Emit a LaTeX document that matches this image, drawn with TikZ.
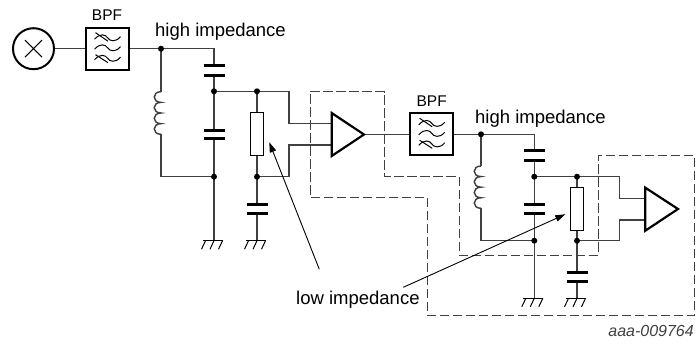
\documentclass[tikz,border=0pt]{standalone}
\usepackage{fontspec}
\setmainfont{Liberation Sans}
\usetikzlibrary{arrows.meta}
\definecolor{wirec}{gray}{0.25}
\tikzset{
  x=1pt,y=-1pt,
  wire/.style={draw=wirec,line width=1.45pt,line join=miter},
  dot/.style={circle,fill=black,inner sep=0pt,minimum size=6pt},
  plate/.style={draw=black,line width=3pt},
  hd/.style={draw=black,line width=2.2pt,fill=white},
  big/.style={font=\fontsize{18.5}{20}\selectfont,inner sep=0pt,anchor=base west},
  bpflab/.style={font=\fontsize{15.5}{17}\selectfont,inner sep=0pt,anchor=base},
  res/.style={draw=black,line width=1.1pt,fill=white,minimum width=13pt,minimum height=43pt,inner sep=0pt},
  boxf/.style={draw=black,line width=2.3pt,fill=white,minimum width=43pt,minimum height=42pt,inner sep=0pt},
  callout/.style={draw=black,line width=0.9pt,-{Triangle[length=10pt,width=6.5pt]}},
  dashb/.style={draw=wirec,line width=1.2pt,dash pattern=on 9.5pt off 3.5pt},
  sym/.style={draw=black,line width=1pt},
}
\newcommand{\capv}[3]{% x, y1, y2
  \draw[plate] (#1-10.5,#2) -- (#1+10.5,#2);
  \draw[plate] (#1-10.5,#3) -- (#1+10.5,#3);}
\newcommand{\gndv}[2]{% x, y
  \draw[sym] (#1-11,#2) -- (#1+9,#2);
  \foreach \k in {-8.5,0,8.5}{\draw[sym] (#1+\k,#2) -- (#1+\k-4,#2+8.5);}}
\newcommand{\coil}[3]{% x, y1, y2
  \pgfmathsetmacro{\st}{(#3-#2)/4}
  \draw[wire] (#1,#2)
    \foreach \k in {1,2,3,4}{ .. controls (#1-9,#2+\k*\st-\st) and (#1-9,#2+\k*\st) .. (#1,#2+\k*\st) };}
\newcommand{\filt}[2]{% cx, cy
  \foreach \d in {-11,-1,9.5}{
    \draw[sym] (#1-13,#2+\d+1.5) .. controls (#1-7,#2+\d-5) and (#1-2,#2+\d-3) .. (#1,#2+\d) .. controls (#1+2,#2+\d+3.5) and (#1+8,#2+\d+5) .. (#1+13,#2+\d-1);}
  \draw[sym] (#1-12,#2-16) -- (#1+0.5,#2-7.5);
  \draw[sym] (#1-12,#2+6) -- (#1+0.5,#2+14);}
\begin{document}
\begin{tikzpicture}
\useasboundingbox (0,0) rectangle (696,343);
% dashed outline
\draw[dashb] (310.3,91.7) -- (384.7,91.7) -- (384.7,176.7) -- (459.3,176.7) -- (459.3,255.3) -- (598.3,255.3) -- (598.3,155.3) -- (694.3,155.3) -- (694.3,315.7) -- (427.7,315.7) -- (427.7,197.7) -- (310.3,197.7) -- cycle;
% named nodes
\node[circle,draw=black,line width=2pt,minimum size=41pt,inner sep=0pt] (mix) at (33.5,48.7) {};
\draw[sym] (25,40.2) -- (42,57.2) (42,40.2) -- (25,57.2);
\node[boxf] (f1) at (107.5,48.7) {};
\node[boxf] (f2) at (431.7,134.3) {};
\filt{107.5}{48.7}
\filt{431.7}{134.3}
\node[res] (r1) at (257,134.2) {};
\node[res] (r2) at (577,208.8) {};
\coordinate (j1) at (161,48.7);
\coordinate (c1t) at (214,48.7);
\coordinate (j2) at (214,91.3);
\coordinate (j3) at (257,91.3);
\coordinate (j4) at (214,176.7);
\coordinate (j5) at (257,176.7);
\coordinate (g1) at (214,240.7);
\coordinate (g2) at (257,240.7);
\coordinate (amp1o) at (364,134.3);
\coordinate (j6) at (481,134.3);
\coordinate (j7) at (534.3,176.7);
\coordinate (j8) at (577,176.7);
\coordinate (j9) at (534.3,240.7);
\coordinate (j10) at (577,240.7);
\coordinate (g3) at (534.3,298.3);
\coordinate (g4) at (577,298.3);
% wires
\draw[wire] (mix) -- (f1);
\draw[wire] (f1) -- (j1) -- (c1t) -- (214,65);
\draw[wire] (j1) -- (161,91.7);
\coil{161}{91.7}{134.3}
\draw[wire] (161,134.3) -- (161,176.7) -- (j4);
\draw[wire] (214,75) -- (j2) -- (214,130);
\draw[wire] (214,138.7) -- (j4) -- (g1);
\draw[wire] (j2) -- (j3) -- (289,91.3) -- (289,123.7) -- (331.7,123.7);
\draw[wire] (j5) -- (289,176.7) -- (289,145) -- (331.7,145);
\draw[wire] (j3) -- (r1) -- (j5) -- (257,204);
\draw[wire] (257,213) -- (g2);
\capv{214}{65}{75}
\capv{214}{130}{138.7}
\capv{257}{204.3}{213}
\draw[wire] (amp1o) -- (f2);
\draw[wire] (f2) -- (j6) -- (534.3,134.3) -- (534.3,150.7);
\draw[wire] (j6) -- (481,166);
\coil{481}{166}{208.3}
\draw[wire] (481,208.3) -- (481,240.7) -- (j9);
\draw[wire] (534.3,160) -- (j7) -- (534.3,204.3);
\draw[wire] (534.3,213) -- (j9) -- (g3);
\draw[wire] (j7) -- (j8) -- (619.7,176.7) -- (619.7,198.3) -- (645.3,198.3);
\draw[wire] (j10) -- (619.7,240.7) -- (619.7,220) -- (645.3,220);
\draw[wire] (j8) -- (r2) -- (j10) -- (577,272.7);
\draw[wire] (577,281.3) -- (g4);
\capv{534.3}{150.7}{160}
\capv{534.3}{204.3}{213}
\capv{577}{272.7}{281.3}
\gndv{214}{240.7}
\gndv{257}{240.7}
\gndv{534.3}{298.3}
\gndv{577}{298.3}
% amplifiers
\draw[hd,line join=miter] (331.7,113) -- (364,134.5) -- (331.7,156) -- cycle;
\draw[hd,line join=miter] (645.3,187.7) -- (678,209) -- (645.3,230.7) -- cycle;
% dots
\foreach \p in {j1,j2,j3,j4,j5,j6,j7,j8,j9,j10}{\node[dot] at (\p) {};}
% labels
\node[bpflab] (lb1) at (107,20.7) {BPF};
\node[bpflab] (lb2) at (431.7,106) {BPF};
\node[big] (hi1) at (155,36.7) {high impedance};
\node[big] (hi2) at (475,123.3) {high impedance};
\node[big] (lo) at (296,304) {low impedance};
\node[font=\fontsize{16}{18}\selectfont\itshape,inner sep=0pt,anchor=base east,text=wirec] (ref) at (694,336.7) {aaa-009764};
% callouts
\coordinate (a1s) at (319.3,269.3);
\coordinate (a1e) at (269.3,142.3);
\coordinate (a2s) at (403.3,287.3);
\coordinate (a2e) at (565.3,214.3);
\draw[callout] (a1s) -- (a1e);
\draw[callout] (a2s) -- (a2e);
\end{tikzpicture}
\end{document}
